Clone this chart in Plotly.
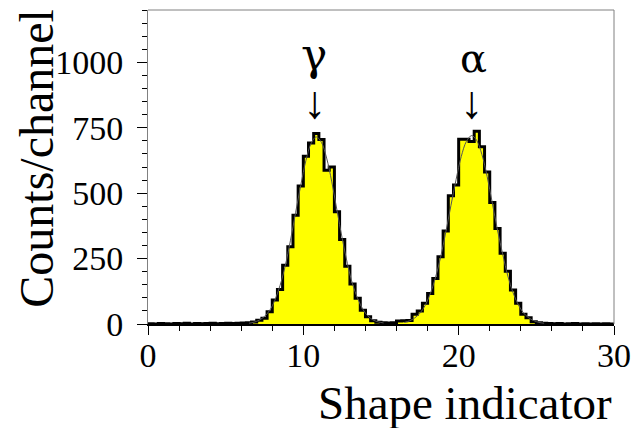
import numpy as np
import plotly.graph_objects as go

# ---------------- data ----------------
channel_width = 1 / 3  # shape-indicator units per channel

counts = [
    # channels 0-18
    1, 0, 2, 1, 0, 2, 1, 3, 0, 2, 1, 2, 3, 1, 2, 3, 2, 3, 4,
    # channels 19-42 (gamma peak)
    5, 8, 14, 22, 47, 92, 132, 225, 295, 416, 527, 641, 692, 728, 705, 588, 600,
    429, 323, 221, 153, 98, 53, 28,
    # channels 43-50 (valley)
    12, 7, 5, 4, 5, 11, 12, 13,
    # channels 51-75 (alpha peak)
    37, 50, 79, 117, 174, 257, 355, 490, 531, 706, 706, 697, 737, 677, 581, 464,
    365, 270, 202, 130, 79, 37, 24, 9, 5,
    # channels 76-89
    3, 2, 1, 2, 0, 1, 2, 0, 1, 0, 1, 0, 1, 0,
]

gamma_fit_first_channel = 19
gamma_fit = [3, 7, 15, 29, 52, 91, 147, 222, 318, 425, 530, 625, 690, 715, 694,
             634, 543, 434, 328, 232, 153, 97, 56, 30, 15, 8, 4]

alpha_fit_first_channel = 49
alpha_fit = [6, 12, 23, 41, 70, 115, 176, 254, 350, 452, 552, 640, 698, 720, 701,
             647, 564, 462, 359, 267, 183, 120, 74, 43, 24, 13, 6, 3]

x_tick_vals = [0, 10, 20, 30]
y_tick_vals = [0, 250, 500, 750, 1000]

peak_labels = ["γ", "α"]
peak_label_x = [10.66, 20.98]
peak_label_y = [1030, 1015]
peak_label_size = [44, 40]
arrow_x = [10.72, 20.83]
arrow_y = [845, 845]

# ---------------- build ----------------
edges = np.arange(len(counts) + 1) * channel_width
y_step = counts + [counts[-1]]

g_x = (np.arange(len(gamma_fit)) + gamma_fit_first_channel + 0.5) * channel_width
a_x = (np.arange(len(alpha_fit)) + alpha_fit_first_channel + 0.5) * channel_width

serif = "Liberation Serif, Times New Roman, serif"
greek = "DejaVu Serif, Liberation Serif, serif"

fig = go.Figure()
fig.add_trace(go.Scatter(
    x=edges, y=y_step, mode="lines",
    line=dict(shape="hv", color="black", width=3),
    fill="tozeroy", fillcolor="#ffff00", hoverinfo="skip", showlegend=False,
))
for fx, fy in ((g_x, gamma_fit), (a_x, alpha_fit)):
    fig.add_trace(go.Scatter(
        x=fx, y=fy, mode="lines",
        line=dict(shape="spline", color="#555555", width=1),
        hoverinfo="skip", showlegend=False,
    ))

annotations = []
for lab, lx, ly, ls in zip(peak_labels, peak_label_x, peak_label_y, peak_label_size):
    annotations.append(dict(x=lx, y=ly, xref="x", yref="y", text=lab,
                            showarrow=False, font=dict(family=greek, size=ls, color="black"),
                            xanchor="center", yanchor="middle"))
for ax_, ay_ in zip(arrow_x, arrow_y):
    annotations.append(dict(x=ax_, y=ay_, xref="x", yref="y", text="↓",
                            showarrow=False, font=dict(family=serif, size=46, color="black"),
                            xanchor="center", yanchor="middle"))
annotations.append(dict(x=1.0, y=-0.252, xref="paper", yref="paper",
                        text="Shape indicator", showarrow=False,
                        font=dict(family=serif, size=47, color="black"),
                        xanchor="right", yanchor="middle"))
annotations.append(dict(x=-0.24, y=0.527, xref="paper", yref="paper",
                        text="Counts/channel", showarrow=False, textangle=-90,
                        font=dict(family=serif, size=48, color="black"),
                        xanchor="center", yanchor="middle"))

fig.update_layout(
    width=641, height=428,
    margin=dict(l=148, r=23, t=10, b=104),
    paper_bgcolor="white", plot_bgcolor="white",
    annotations=annotations,
    shapes=[
        dict(type="line", xref="paper", yref="paper", x0=0, x1=1, y0=1, y1=1,
             line=dict(color="#808080", width=1)),
        dict(type="line", xref="paper", yref="paper", x0=1, x1=1, y0=0, y1=1,
             line=dict(color="#808080", width=1)),
    ],
    xaxis=dict(
        range=[0, 30], tickvals=x_tick_vals, ticks="outside", ticklen=9,
        tickcolor="black", tickwidth=1, ticklabelstandoff=-9,
        minor=dict(dtick=2, ticks="outside", ticklen=5, tickcolor="black"),
        showline=True, linecolor="black", linewidth=2,
        showgrid=False, zeroline=False,
        tickfont=dict(family=serif, size=34, color="black"),
    ),
    yaxis=dict(
        range=[0, 1200], tickvals=y_tick_vals, ticks="outside", ticklen=10,
        tickcolor="black", tickwidth=1, ticklabelstandoff=7,
        minor=dict(dtick=50, ticks="outside", ticklen=5, tickcolor="black"),
        showline=True, linecolor="#808080", linewidth=1,
        showgrid=False, zeroline=False,
        tickfont=dict(family=serif, size=34, color="black"),
    ),
)

fig.write_html("out.html", config={"displayModeBar": False},
               post_script="document.body.style.margin='0px';")
